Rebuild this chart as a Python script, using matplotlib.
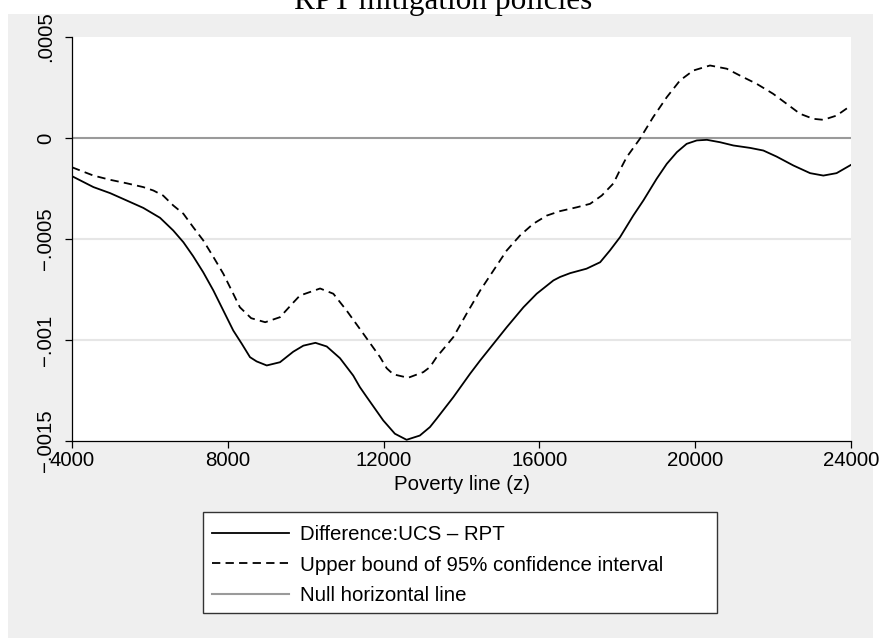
import matplotlib
matplotlib.use("Agg")
import matplotlib.pyplot as plt
from matplotlib.patches import Rectangle
from matplotlib.lines import Line2D

# ---- data, y in units of 1e-4 ----
x_diff = [4000, 4550, 4980, 5400, 5830, 6260, 6600, 6860, 7110, 7370, 7630, 7885,
          8140, 8360, 8570, 8740, 9000, 9340, 9680, 9940, 10250, 10540, 10880,
          11220, 11390, 11570, 11990, 12290, 12590, 12930, 13190, 13360, 13790,
          14220, 14480, 14650, 15160, 15590, 15930, 16360, 16530, 16790, 17210,
          17560, 17810, 18070, 18410, 18670, 19010, 19270, 19530, 19780, 20040,
          20300, 20640, 20980, 21410, 21750, 22090, 22520, 22950, 23290, 23630,
          24000]
y_diff = [-1.89, -2.43, -2.73, -3.09, -3.46, -3.95, -4.58, -5.16, -5.85, -6.65,
          -7.55, -8.54, -9.53, -10.19, -10.85, -11.06, -11.26, -11.10, -10.58,
          -10.28, -10.14, -10.32, -10.90, -11.76, -12.33, -12.83, -13.98, -14.64,
          -14.94, -14.73, -14.31, -13.90, -12.83, -11.67, -11.01, -10.60, -9.37,
          -8.38, -7.71, -7.05, -6.88, -6.69, -6.47, -6.15, -5.57, -4.91, -3.84,
          -3.09, -2.02, -1.28, -0.70, -0.29, -0.12, -0.09, -0.21, -0.37, -0.49,
          -0.62, -0.92, -1.36, -1.74, -1.86, -1.74, -1.33]
x_upper = [4000, 4550, 4980, 5400, 5830, 6090, 6340, 6600, 6860, 7110, 7370, 7630,
           7885, 8140, 8310, 8600, 8960, 9340, 9680, 9850, 10370, 10710, 11050,
           11480, 11910, 12080, 12250, 12630, 13020, 13190, 13360, 13790, 14130,
           14480, 14820, 15160, 15500, 15840, 16190, 16530, 16960, 17300, 17600,
           17900, 18070, 18240, 18580, 18920, 19270, 19610, 19950, 20380, 20810,
           21150, 21580, 22000, 22350, 22690, 23030, 23290, 23630, 24000]
y_upper = [-1.45, -1.86, -2.07, -2.24, -2.43, -2.60, -2.85, -3.34, -3.75, -4.41,
           -5.07, -5.89, -6.72, -7.71, -8.38, -8.92, -9.12, -8.87, -8.15, -7.80,
           -7.45, -7.71, -8.54, -9.69, -10.85, -11.40, -11.70, -11.87, -11.59,
           -11.34, -10.85, -9.86, -8.70, -7.55, -6.56, -5.57, -4.83, -4.25, -3.84,
           -3.62, -3.43, -3.26, -2.85, -2.25, -1.58, -0.95, -0.04, 1.03, 2.02,
           2.85, 3.34, 3.59, 3.43, 3.09, 2.68, 2.19, 1.69, 1.20, 0.95, 0.90, 1.11,
           1.61]
scale = 1e-4
y_diff = [v * scale for v in y_diff]
y_upper = [v * scale for v in y_upper]

x_ticks = [4000, 8000, 12000, 16000, 20000, 24000]
x_ticklabels = ["4000", "8000", "12000", "16000", "20000", "24000"]
y_ticks = [0.0005, 0, -0.0005, -0.001, -0.0015]
y_ticklabels = [".0005", "0", "\u2212.0005", "\u2212.001", "\u2212.0015"]
null_value = 0.0

title = "RPT mitigation policies"
xlabel = "Poverty line (z)"
labels = ["Difference:UCS \u2013 RPT", "Upper bound of 95% confidence interval",
          "Null horizontal line"]

# ---- figure ----
W, H = 883, 639
FS = 14.7
LW = 1.3
DASH = (4.6, 2.9)
fig = plt.figure(figsize=(W / 100, H / 100), dpi=100)
fig.patch.set_facecolor("white")
plt.rcParams["font.family"] = ["Liberation Sans", "DejaVu Sans"]

def fx(px):
    return px / W

def fy(py):
    return 1 - py / H

# gray graph region
fig.patches.append(Rectangle((fx(8), fy(638)), fx(873) - fx(8), fy(14) - fy(638),
                             transform=fig.transFigure, facecolor="#efefef",
                             edgecolor="none", zorder=-10))

ax = fig.add_axes([fx(72), fy(441), fx(851) - fx(72), fy(37) - fy(441)])
ax.set_zorder(2)
ax.set_facecolor("white")
ax.set_xlim(4000, 24000)
ax.set_ylim(-0.0015, 0.0005)

for g in [-0.0005, -0.001]:
    ax.axhline(g, color="#e6e6e6", lw=1.5, zorder=1)

gray = "#9a9a9a"
ax.axhline(null_value, color=gray, lw=1.5, zorder=2)
ax.plot(x_diff, y_diff, color="black", lw=LW, solid_joinstyle="round", zorder=3)
ax.plot(x_upper, y_upper, color="black", lw=LW, dashes=DASH, zorder=3)

for s in ["top", "right"]:
    ax.spines[s].set_visible(False)
for s in ["left", "bottom"]:
    ax.spines[s].set_linewidth(0.9)

ax.set_xticks(x_ticks)
ax.set_xticklabels(x_ticklabels, fontsize=FS)
ax.set_yticks(y_ticks)
ax.set_yticklabels(y_ticklabels, fontsize=FS, rotation=90, va="center")
ax.tick_params(axis="x", length=5, width=0.9, pad=2)
ax.tick_params(axis="y", length=5, width=0.9, pad=7)
ax.set_xlabel(xlabel, fontsize=FS, labelpad=4)

fig.text(fx(443), fy(9.5), title, fontsize=22.5, family="Liberation Serif",
         ha="center", va="baseline")

# legend box
fig.patches.append(Rectangle((fx(203), fy(613)), fx(717) - fx(203), fy(512) - fy(613),
                             transform=fig.transFigure, facecolor="white",
                             edgecolor="#333333", lw=1.0, zorder=-5))
handles = [Line2D([], [], color="black", lw=LW),
           Line2D([], [], color="black", lw=LW, dashes=DASH),
           Line2D([], [], color=gray, lw=1.5)]
fig.legend(handles, labels, loc="upper left", bbox_to_anchor=(fx(212), fy(525)),
           frameon=False, fontsize=FS, handlelength=3.77, handletextpad=0.54,
           labelspacing=0.57, borderpad=0, borderaxespad=0)

fig.savefig("out.png", dpi=100, facecolor="white")
